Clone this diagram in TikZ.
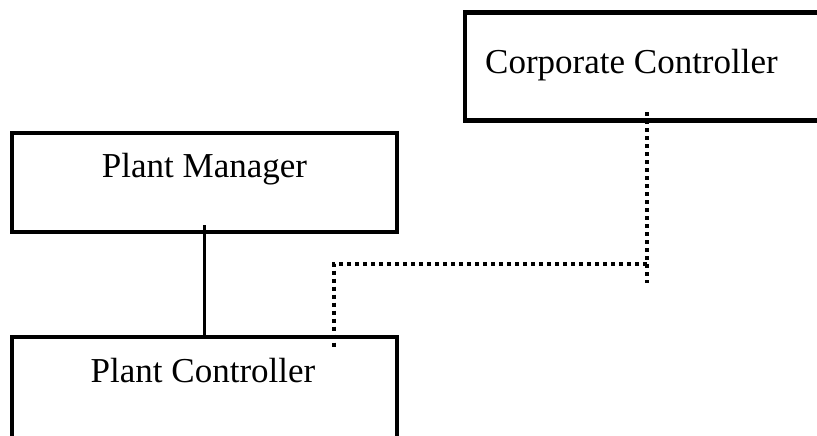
\documentclass[tikz,border=0pt]{standalone}
\usepackage{fontspec}
\setmainfont{Liberation Serif}
\begin{document}
\begin{tikzpicture}[x=1pt,y=-1pt,
  box/.style={draw=black,line width=4.3pt,inner sep=0pt,rectangle},
  lbl/.style={font=\fontsize{35}{40}\selectfont,inner sep=0pt},
  solidlink/.style={draw=black,line width=3.6pt},
  dotlink/.style={draw=black,line width=4pt,dash pattern=on 4pt off 4pt}]
\useasboundingbox (0,0) rectangle (817,436);
% boxes
\node[box,minimum width=385pt,minimum height=99pt] (pm) at (204.5,182.5) {};
\node[box,minimum width=385pt,minimum height=120pt] (pc) at (204.5,397) {};
\node[box,minimum width=380pt,minimum height=108pt] (cc) at (655,66.5) {};
% texts
\node[lbl,anchor=base] (pmt) at (204.5,177) {Plant Manager};
\node[lbl,anchor=base] (pct) at (203,382) {Plant Controller};
\node[lbl,anchor=base west] (cct) at (485,74) {Corporate Controller};
% connectors
\coordinate (cc1) at (647,112);
\coordinate (cc2) at (647,283);
\coordinate (bend) at (647,263.5);
\coordinate (pcin) at (334,347);
\draw[solidlink] ([yshift=9pt]pm.south) -- (pc.north);
\draw[dotlink] (cc1) -- (cc2);
\draw[dotlink] (bend) -| (pcin);
\end{tikzpicture}
\end{document}
